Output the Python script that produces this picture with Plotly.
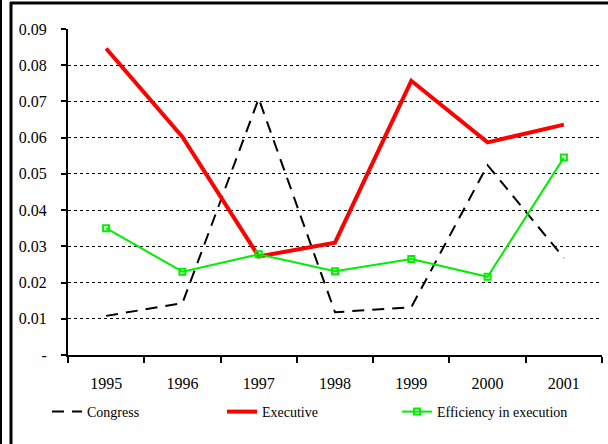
import plotly.graph_objects as go

years = ["1995", "1996", "1997", "1998", "1999", "2000", "2001"]
congress = [0.0108, 0.0143, 0.0708, 0.0118, 0.0132, 0.0524, 0.0268]
executive = [0.0846, 0.0602, 0.0272, 0.0310, 0.0757, 0.0587, 0.0636]
efficiency = [0.0350, 0.0230, 0.0278, 0.0231, 0.0265, 0.0216, 0.0545]

y_ticks = [0, 0.01, 0.02, 0.03, 0.04, 0.05, 0.06, 0.07, 0.08, 0.09]
y_tick_labels = ["-", "0.01", "0.02", "0.03", "0.04", "0.05", "0.06", "0.07", "0.08", "0.09"]

FONT = "Liberation Serif"

fig = go.Figure()
fig.add_trace(go.Scatter(x=years, y=congress, name="Congress", mode="lines",
                         line=dict(color="black", width=2, dash="12px,8px")))
fig.add_trace(go.Scatter(x=years, y=executive, name="Executive", mode="lines",
                         line=dict(color="#ff0000", width=4)))
fig.add_trace(go.Scatter(x=years, y=efficiency, name="Efficiency in execution", mode="lines+markers",
                         line=dict(color="#00ee00", width=2),
                         marker=dict(symbol="square-open", size=6, color="#00ee00",
                                     line=dict(color="#00ee00", width=2))))

W, H = 608, 444
L, R, T, B = 68, 6, 29, 89
pw = W - L - R
ph = H - T - B

def px(x):
    return (x - L) / pw

def py(y):
    return (H - B - y) / ph

shapes = [
    dict(type="line", xref="paper", yref="paper", x0=px(11), x1=px(11), y0=py(2), y1=py(444),
         line=dict(color="black", width=3)),
    dict(type="line", xref="paper", yref="paper", x0=px(10), x1=px(608), y0=py(3), y1=py(3),
         line=dict(color="black", width=3)),
    dict(type="line", xref="paper", yref="paper", x0=px(0.5), x1=px(0.5), y0=py(0), y1=py(444),
         line=dict(color="black", width=3)),
]

fig.update_layout(
    width=W, height=H,
    margin=dict(l=L, r=R, t=T, b=B),
    paper_bgcolor="white", plot_bgcolor="white",
    font=dict(family=FONT, size=15, color="black"),
    showlegend=True,
    legend=dict(orientation="h", x=px(47), xanchor="left", y=py(412), yanchor="middle",
                font=dict(family=FONT, size=14, color="black"), entrywidth=130, entrywidthmode="pixels",
                bgcolor="rgba(0,0,0,0)"),
    shapes=shapes,
    xaxis=dict(type="category", showgrid=False, showline=True, linecolor="black", linewidth=2,
               ticks="outside", tickson="boundaries", ticklen=6, tickwidth=2, tickcolor="black",
               tickfont=dict(family=FONT, size=16, color="black"), ticklabelstandoff=13,
               range=[-0.5, 6.5], automargin=False),
    yaxis=dict(range=[0, 0.09], tickvals=y_ticks, ticktext=y_tick_labels,
               showgrid=True, gridcolor="black", gridwidth=1, griddash="dot",
               showline=True, linecolor="black", linewidth=2,
               ticks="outside", ticklen=5, tickwidth=2, tickcolor="black",
               tickfont=dict(family=FONT, size=16, color="black"), ticklabelstandoff=11,
               zeroline=False, automargin=False),
)

fig.write_html("out.html", config={"displayModeBar": False},
               post_script="document.body.style.margin='0';")
